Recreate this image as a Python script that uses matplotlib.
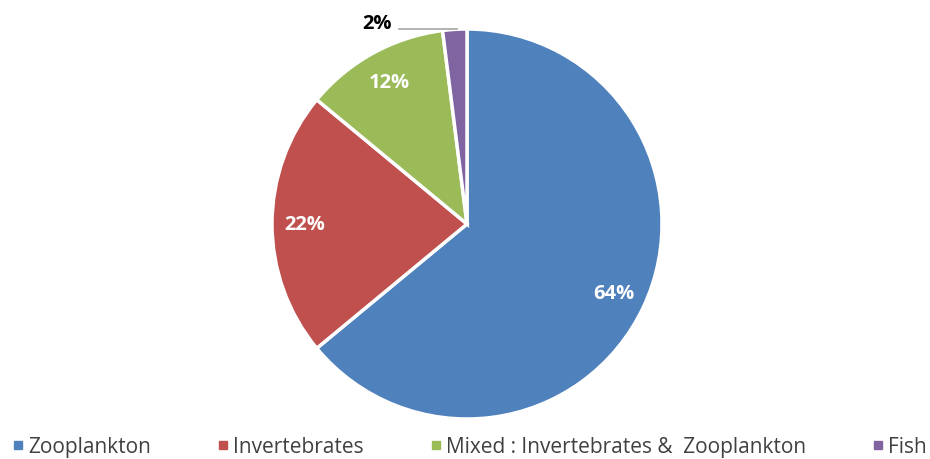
import matplotlib
matplotlib.use("Agg")
import matplotlib.pyplot as plt
from matplotlib.lines import Line2D

categories = ["Zooplankton", "Invertebrates", "Mixed : Invertebrates &  Zooplankton", "Fish"]
shares = [64, 22, 12, 2]
colors = ["#4F81BD", "#C0504D", "#9BBB59", "#8064A2"]

plt.rcParams["font.family"] = ["Open Sans", "DejaVu Sans"]

fig = plt.figure(figsize=(9.3, 4.6), dpi=100)
ax = fig.add_axes([272 / 930, 40 / 460, 390 / 930, 390 / 460])

wedges, texts, autotexts = ax.pie(
    shares, colors=colors, startangle=90, counterclock=False,
    autopct="%d%%", pctdistance=0.83,
    wedgeprops=dict(edgecolor="white", linewidth=2.5),
    textprops=dict(color="white", fontsize=14.5, fontweight="bold"),
)
ax.set_aspect("equal")
ax.set_xlim(-1, 1)
ax.set_ylim(-1, 1)

# small slice: label outside with leader line
small = autotexts[-1]
small.set_position((-0.46, 1.03))
small.set_color("black")
small.set_ha("center")
small.set_va("center")
ax.plot([-0.35, -0.05], [1.0, 1.0], color="#A6A6A6", lw=1.2, clip_on=False)

handles = [Line2D([], [], marker="s", linestyle="none", markersize=6,
                  markerfacecolor=c, markeredgecolor=c) for c in colors]
fig.legend(handles, categories, loc="lower center", ncol=4, frameon=False,
           bbox_to_anchor=(0.505, -0.037), fontsize=15, handlelength=0.55,
           handletextpad=0.2, columnspacing=3.2, labelcolor="#404040")

fig.savefig("out.png", dpi=100)
